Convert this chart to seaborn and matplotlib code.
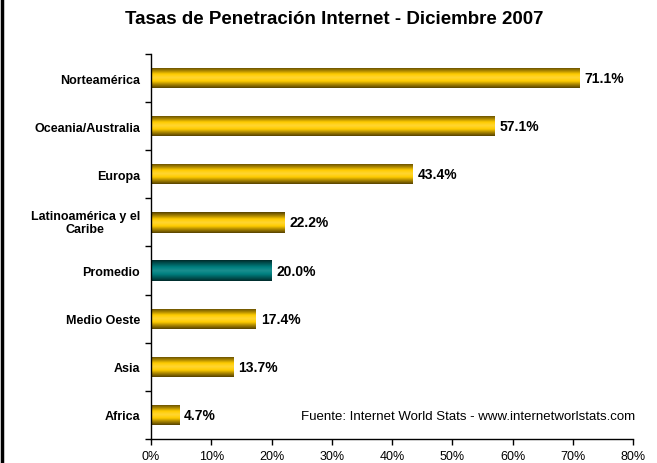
#!/usr/bin/env python3
# plot.py — Internet penetration rates by region, Dec 2007

import numpy as np
import pandas as pd
import seaborn as sns
import matplotlib.pyplot as plt
from matplotlib.lines import Line2D
from matplotlib.ticker import FixedLocator, PercentFormatter
from matplotlib.colors import LinearSegmentedColormap

# --- 1. Data ---
regions = [
    "Norteamérica",
    "Oceania/Australia",
    "Europa",
    "Latinoamérica y el\nCaribe",
    "Promedio",
    "Medio Oeste",
    "Asia",
    "Africa",
]
rates = [71.1, 57.1, 43.4, 22.2, 20.0, 17.4, 13.7, 4.7]
kind = ["region", "region", "region", "region", "avg", "region", "region", "region"]

df = pd.DataFrame({"region": regions, "rate": rates, "kind": kind})

# --- 2. Plot setup ---
sns.set_theme(style="white")
plt.rcParams["font.family"] = ["Liberation Sans", "DejaVu Sans"]
plt.rcParams["text.color"] = "black"
plt.rcParams["xtick.color"] = "black"
plt.rcParams["ytick.color"] = "black"

fig, ax = plt.subplots(figsize=(6.57, 4.64), dpi=100)
fig.subplots_adjust(left=0.230, right=0.9635, top=0.8815, bottom=0.0517)

sns.barplot(
    data=df, y="region", x="rate", hue="kind",
    palette={"region": "#ffcc00", "avg": "#008080"},
    orient="h", width=0.42, dodge=False, legend=False, ax=ax,
    saturation=1,
)

# --- 3. Cylinder-like shading on bars ---
gold = LinearSegmentedColormap.from_list(
    "gold", ["#574200", "#a88400", "#ffcc00", "#ffd633", "#ffcc00", "#a88400", "#574200"])
teal = LinearSegmentedColormap.from_list(
    "teal", ["#002b2b", "#005858", "#008080", "#1a8f8f", "#008080", "#005858", "#002b2b"])
grad = np.linspace(0, 1, 64).reshape(-1, 1)
for patch in ax.patches:
    x0, y0 = patch.get_x(), patch.get_y()
    w, h = patch.get_width(), patch.get_height()
    if w <= 0:
        continue
    row = int(round(y0 + h / 2))
    k = kind[row]
    im = ax.imshow(grad, cmap=teal if k == "avg" else gold, aspect="auto",
                   extent=(x0, x0 + w, y0 + h, y0), zorder=patch.get_zorder() + 0.1,
                   interpolation="bilinear")
    im.set_clip_path(patch)

# --- 4. Axes & ticks ---
ax.set_xlim(0, 80)
ax.set_ylim(len(regions) - 0.5, -0.5)
ax.set_xticks(np.arange(0, 81, 10))
ax.xaxis.set_major_formatter(PercentFormatter(decimals=0))
ax.tick_params(axis="x", length=4, width=1, color="black", direction="out",
               labelsize=9, pad=4, bottom=True)
ax.set_yticks(range(len(regions)))
# multi-line label is drawn separately so its lines can be centred
ax.set_yticklabels(["" if "\n" in r else r for r in regions],
                   fontweight="bold", fontsize=9)
for i, r in enumerate(regions):
    if "\n" in r:
        ax.annotate(r, xy=(0, i), xycoords=("axes fraction", "data"),
                    xytext=(-8, 0), textcoords="offset points",
                    ha="right", va="center", multialignment="center",
                    fontweight="bold", fontsize=9)
ax.tick_params(axis="y", which="major", length=0, pad=8)
ax.yaxis.set_minor_locator(FixedLocator(np.arange(-0.5, len(regions), 1)))
ax.tick_params(axis="y", which="minor", length=4, width=1, color="black",
               direction="out", left=True)
ax.set_xlabel("")
ax.set_ylabel("")
sns.despine(ax=ax, top=True, right=True)
for side in ["left", "bottom"]:
    ax.spines[side].set_color("black")
    ax.spines[side].set_linewidth(1)

# --- 5. Value labels ---
for i, v in enumerate(rates):
    ax.text(v + 0.8, i, f"{v:.1f}%", va="center", ha="left",
            fontsize=10, fontweight="bold", color="black")

fig.text(0.508, 0.958, "Tasas de Penetración Internet - Diciembre 2007",
         fontsize=13.5, fontweight="bold", ha="center", va="center")

ax.text(1.005, 0.06, "Fuente: Internet World Stats - www.internetworlstats.com",
        transform=ax.transAxes, ha="right", va="center", fontsize=9.5)

# left frame line
fig.add_artist(Line2D([0.003, 0.003], [0, 1], color="black", lw=2.5,
                      transform=fig.transFigure))

fig.savefig("out.png", dpi=100)
plt.close(fig)
